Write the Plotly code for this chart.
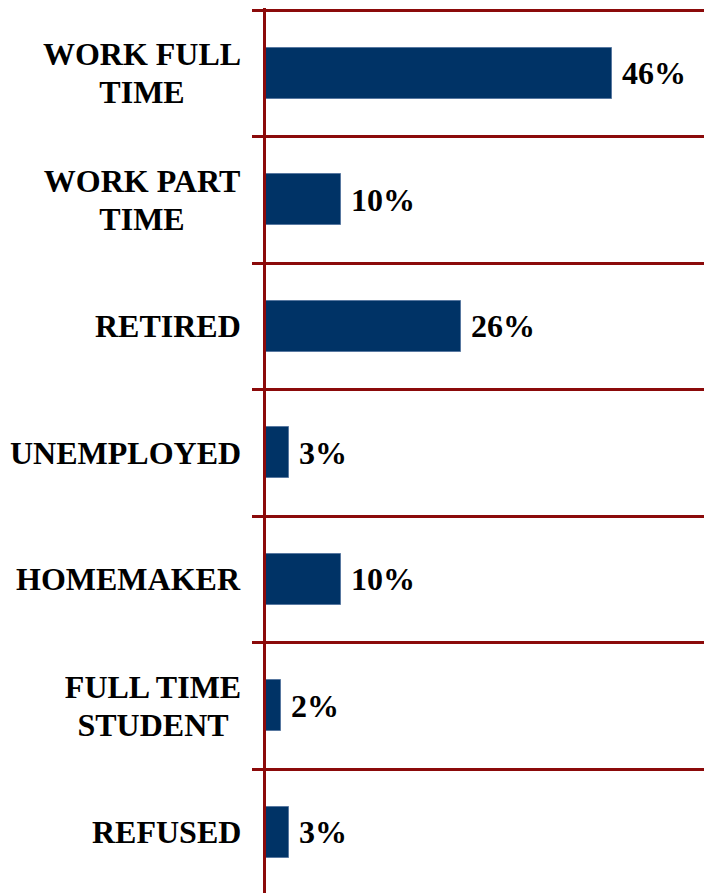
import plotly.graph_objects as go

# Employment status shares (percent of respondents)
categories = [
    "WORK FULL<br>TIME",
    "WORK PART<br>TIME",
    "RETIRED",
    "UNEMPLOYED",
    "HOMEMAKER",
    "FULL TIME<br>STUDENT",
    "REFUSED",
]
shares = [46, 10, 26, 3, 10, 2, 3]
value_labels = ["46%", "10%", "26%", "3%", "10%", "2%", "3%"]

BAR_COLOR = "#003366"
RULE_COLOR = "#8B0A0A"
FONT = "Liberation Serif, Times New Roman, serif"
FONT_SIZE = 32
LINE_STEP = 38      # px between the lines of a wrapped category label
LABEL_GAP = -23     # px from the axis to the right edge of the label block
BLOCK_WIDTH = {"WORK FULL<br>TIME": 198, "WORK PART<br>TIME": 198,
               "FULL TIME<br>STUDENT": 176}

positions = list(range(len(categories)))

fig = go.Figure(
    go.Bar(
        x=shares,
        y=positions,
        orientation="h",
        width=0.4,
        marker=dict(color=BAR_COLOR, line=dict(color="#5878a0", width=1)),
        hoverinfo="skip",
    )
)

# Category labels left of the axis; wrapped lines share one centred block
for pos, cat in zip(positions, categories):
    lines = cat.split("<br>")
    n = len(lines)
    for i, line in enumerate(lines):
        offset = (i - (n - 1) / 2) * LINE_STEP
        extra = {}
        if n > 1:
            extra = dict(width=BLOCK_WIDTH[cat], align="center")
        fig.add_annotation(
            x=0, xref="paper", y=pos, yref="y",
            text=f"<b>{line}</b>", showarrow=False,
            xanchor="right", yanchor="middle",
            xshift=LABEL_GAP, yshift=-offset,
            font=dict(family=FONT, size=FONT_SIZE, color="black"),
            **extra,
        )

# Value labels at the end of each bar
for pos, val, lab in zip(positions, shares, value_labels):
    fig.add_annotation(
        x=val, xref="x", y=pos, yref="y",
        text=f"<b>{lab}</b>", showarrow=False,
        xanchor="left", yanchor="middle", xshift=8,
        font=dict(family=FONT, size=FONT_SIZE, color="black"),
    )

fig.update_layout(
    width=704, height=893,
    margin=dict(l=266, r=0, t=8, b=0),
    paper_bgcolor="white", plot_bgcolor="white",
    showlegend=False,
    bargap=0,
    xaxis=dict(
        range=[0, 58.3], showgrid=False, zeroline=False,
        showticklabels=False, showline=False, ticks="",
    ),
    yaxis=dict(
        range=[6.48, -0.516],
        tickvals=positions, showticklabels=False, ticks="",
        showgrid=False, zeroline=False,
        showline=True, linecolor=RULE_COLOR, linewidth=2.5,
        minor=dict(
            tick0=0.5, dtick=1, showgrid=True,
            gridcolor=RULE_COLOR, gridwidth=2.5,
            ticks="outside", ticklen=11, tickcolor=RULE_COLOR, tickwidth=2.5,
        ),
    ),
)

fig.write_html("out.html")
